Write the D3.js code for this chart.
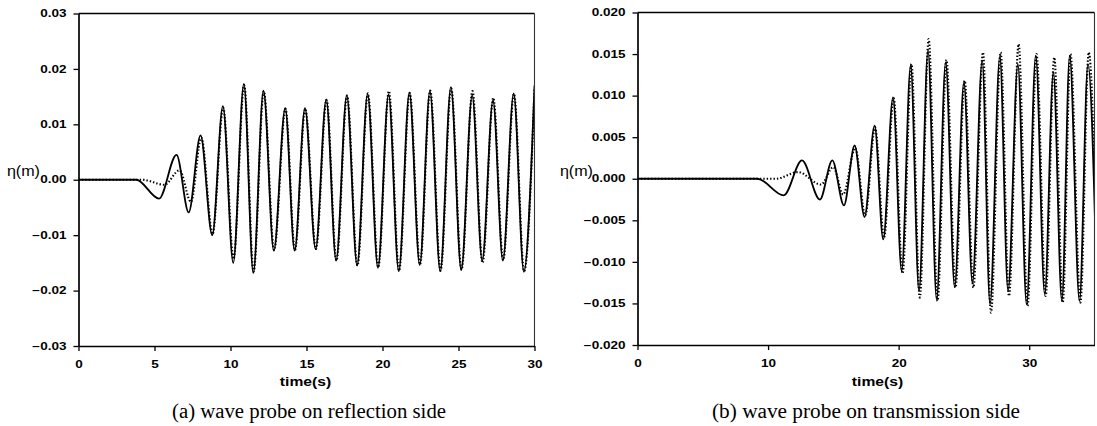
<!DOCTYPE html>
<html>
<head>
<meta charset="utf-8">
<script src="https://cdn.jsdelivr.net/npm/d3@7"></script>
<style>
  html, body { margin: 0; padding: 0; background: #fff; }
  svg { display: block; }
</style>
</head>
<body>
<svg id="chart" width="1097" height="426"></svg>
<script>
// ---------- DATA (extrema of each record) ----------
// Panel (a) – reflection side
const aSolidTime  = [0, 3.8, 5.3, 6.45, 7.25, 8.03, 8.8, 9.5, 10.18, 10.88, 11.5, 12.17, 12.85, 13.6, 14.22, 14.9, 15.6, 16.3, 16.95, 17.65, 18.33, 19.02, 19.7, 20.4, 21.07, 21.77, 22.45, 23.12, 23.8, 24.5, 25.18, 25.9, 26.56, 27.27, 27.92, 28.63, 29.3, 30.0];
const aSolidEta   = [0, 0, -0.0034, 0.0045, -0.0059, 0.0080, -0.0100, 0.0133, -0.0150, 0.0173, -0.0168, 0.0161, -0.0128, 0.0129, -0.0128, 0.0129, -0.0125, 0.0145, -0.0146, 0.0152, -0.0155, 0.0155, -0.0159, 0.0154, -0.0165, 0.0157, -0.0154, 0.0160, -0.0165, 0.0167, -0.0163, 0.0152, -0.0146, 0.0143, -0.0146, 0.0156, -0.0166, 0.0170];
const aDotTime    = [0, 4.2, 5.65, 6.65, 7.4, 8.08, 8.82, 9.52, 10.2, 10.9, 11.52, 12.19, 12.87, 13.62, 14.24, 14.92, 15.62, 16.32, 16.97, 17.67, 18.35, 19.04, 19.72, 20.42, 21.09, 21.79, 22.47, 23.14, 23.82, 24.52, 25.2, 25.92, 26.58, 27.29, 27.94, 28.65, 29.32, 30.0];
const aDotEta     = [0, 0, -0.0009, 0.0017, -0.0040, 0.0076, -0.0098, 0.0130, -0.0143, 0.0171, -0.0166, 0.0160, -0.0127, 0.0128, -0.0127, 0.0128, -0.0125, 0.0144, -0.0146, 0.0152, -0.0155, 0.0156, -0.0158, 0.0160, -0.0164, 0.0157, -0.0153, 0.0161, -0.0164, 0.0165, -0.0162, 0.0160, -0.0150, 0.0148, -0.0145, 0.0155, -0.0165, 0.0165];

// Panel (b) – transmission side
const bSolidTime  = [0, 9.2, 11.2, 12.6, 13.97, 14.92, 15.81, 16.63, 17.39, 18.16, 18.82, 19.57, 20.23, 20.92, 21.56, 22.25, 22.91, 23.6, 24.29, 25.0, 25.65, 26.4, 27.0, 27.75, 28.38, 29.13, 29.8, 30.5, 31.19, 31.85, 32.5, 33.1, 33.85, 34.5, 35.2];
const bSolidEta   = [0, 0, -0.0020, 0.0022, -0.0025, 0.0022, -0.0032, 0.0040, -0.0046, 0.0064, -0.0073, 0.0098, -0.0111, 0.0136, -0.0135, 0.0154, -0.0145, 0.0140, -0.0130, 0.0116, -0.0125, 0.0142, -0.0151, 0.0147, -0.0135, 0.0138, -0.0151, 0.0148, -0.0139, 0.0128, -0.0147, 0.0148, -0.0147, 0.0138, -0.0145];
const bDotTime    = [0, 10.6, 12.3, 14.05, 15.0, 15.75, 16.68, 17.44, 18.2, 18.88, 19.62, 20.3, 20.98, 21.62, 22.3, 22.98, 23.66, 24.35, 25.06, 25.72, 26.46, 27.07, 27.81, 28.45, 29.19, 29.87, 30.56, 31.26, 31.92, 32.57, 33.16, 33.92, 34.56, 35.25];
const bDotEta     = [0, 0, 0.0008, -0.0007, 0.0014, -0.0019, 0.0037, -0.0044, 0.0062, -0.0071, 0.0097, -0.0114, 0.0138, -0.0143, 0.0168, -0.0147, 0.0143, -0.0131, 0.0118, -0.0131, 0.0152, -0.0161, 0.0152, -0.0141, 0.0162, -0.0153, 0.0150, -0.0141, 0.0146, -0.0149, 0.0150, -0.0149, 0.0152, -0.0147];

// Tick labels
const aXTicks = [0, 5, 10, 15, 20, 25, 30];
const aYTicks = [-0.03, -0.02, -0.01, 0.00, 0.01, 0.02, 0.03];
const bXTicks = [0, 10, 20, 30];
const bYTicks = [-0.020, -0.015, -0.010, -0.005, 0.000, 0.005, 0.010, 0.015, 0.020];

const yLabel = "η(m)";
const xLabel = "time(s)";
const captions = ["(a) wave probe on reflection side", "(b) wave probe on transmission side"];

// ---------- DRAWING ----------
const svg = d3.select("#chart");
const zip = (t, v) => t.map((d, i) => ({t: d, v: v[i]}));

const panels = [
  { id: "a", x0: 78.5, x1: 534.5, y0: 13.5, y1: 346, xDom: [0, 30], yDom: [-0.03, 0.03],
    xTicks: aXTicks, yTicks: aYTicks, yFmt: d3.format(".2f"),
    solid: zip(aSolidTime, aSolidEta), dot: zip(aDotTime, aDotEta),
    yLabX: 40, xLabX: 305.5, capX: 309, capW: 274 },
  { id: "b", x0: 637.5, x1: 1094.5, y0: 12.5, y1: 345, xDom: [0, 35], yDom: [-0.02, 0.02],
    xTicks: bXTicks, yTicks: bYTicks, yFmt: d3.format(".3f"),
    solid: zip(bSolidTime, bSolidEta), dot: zip(bDotTime, bDotEta),
    yLabX: 593, xLabX: 877.5, capX: 866, capW: 308 }
];

function widen(sel, k) {
  sel.each(function () {
    const w = this.getComputedTextLength();
    d3.select(this).attr("textLength", w * k).attr("lengthAdjust", "spacingAndGlyphs");
  });
}

panels.forEach(p => {
  const x = d3.scaleLinear().domain(p.xDom).range([p.x0, p.x1]);
  const y = d3.scaleLinear().domain(p.yDom).range([p.y1, p.y0]);
  const g = svg.append("g");

  g.append("clipPath").attr("id", "clip-" + p.id)
    .append("rect").attr("x", p.x0).attr("y", p.y0 - 2)
    .attr("width", p.x1 - p.x0).attr("height", p.y1 - p.y0 + 4);

  const line = d3.line().x(d => x(d.t)).y(d => y(d.v)).curve(d3.curveMonotoneX);

  const plot = g.append("g").attr("clip-path", `url(#clip-${p.id})`);
  plot.append("path").datum(p.solid).attr("d", line)
    .attr("fill", "none").attr("stroke", "#000").attr("stroke-width", 1.8);
  plot.append("path").datum(p.dot).attr("d", line)
    .attr("fill", "none").attr("stroke", "#000").attr("stroke-width", 2.1)
    .attr("stroke-dasharray", "1.4 2");

  // frame: top and right
  g.append("line").attr("x1", p.x0).attr("x2", p.x1).attr("y1", p.y0).attr("y2", p.y0)
    .attr("stroke", "#000").attr("stroke-width", 1.6);
  g.append("line").attr("x1", p.x1).attr("x2", p.x1).attr("y1", p.y0).attr("y2", p.y1)
    .attr("stroke", "#333").attr("stroke-width", 1.1);

  const xAxis = g.append("g").attr("transform", `translate(0,${p.y1})`)
    .call(d3.axisBottom(x).tickValues(p.xTicks).tickFormat(d3.format("d")).tickSize(5).tickPadding(10).tickSizeOuter(0));
  const yAxis = g.append("g").attr("transform", `translate(${p.x0},0)`)
    .call(d3.axisLeft(y).tickValues(p.yTicks).tickFormat(p.yFmt).tickSize(5).tickPadding(7).tickSizeOuter(0));

  [xAxis, yAxis].forEach(ax => {
    ax.select(".domain").attr("stroke", "#000").attr("stroke-width", 1.7);
    ax.selectAll(".tick line").attr("stroke", "#000").attr("stroke-width", 1.3);
    ax.selectAll(".tick text").attr("fill", "#000")
      .style("font-family", "'Liberation Sans', Arial, sans-serif")
      .style("font-weight", "bold").style("font-size", "10px");
    widen(ax.selectAll(".tick text"), 1.35);
  });

  // y label
  const yl = g.append("text").attr("x", p.yLabX).attr("y", 175.5).attr("text-anchor", "end")
    .style("font-family", "'Liberation Sans', Arial, sans-serif").style("font-size", "14px")
    .text(yLabel);
  widen(yl, 1.15);

  // x label
  const xl = g.append("text").attr("x", p.xLabX).attr("y", 386).attr("text-anchor", "middle")
    .style("font-family", "'Liberation Sans', Arial, sans-serif").style("font-size", "12.5px")
    .style("font-weight", "bold").text(xLabel);
  widen(xl, 1.25);

  // caption
  g.append("text").attr("x", p.capX).attr("y", 418).attr("text-anchor", "middle")
    .style("font-family", "'Liberation Serif', 'Times New Roman', serif").style("font-size", "20px")
    .attr("textLength", p.capW).attr("lengthAdjust", "spacingAndGlyphs")
    .text(captions[p.id === "a" ? 0 : 1]);
});
</script>
</body>
</html>
